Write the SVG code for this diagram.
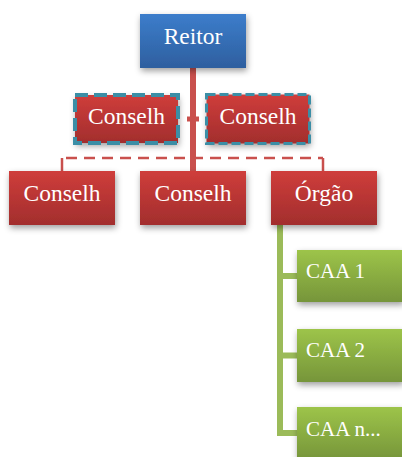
<svg xmlns="http://www.w3.org/2000/svg" width="402" height="457" viewBox="0 0 402 457">
<defs>
<linearGradient id="gBlue" x1="0" y1="0" x2="0" y2="1"><stop offset="0" stop-color="#3c7dcb"/><stop offset="1" stop-color="#2e5f9f"/></linearGradient>
<linearGradient id="gRed" x1="0" y1="0" x2="0" y2="1"><stop offset="0" stop-color="#cf3d3b"/><stop offset="1" stop-color="#a22e2d"/></linearGradient>
<linearGradient id="gGreen" x1="0" y1="0" x2="0" y2="1"><stop offset="0" stop-color="#9dc449"/><stop offset="1" stop-color="#76953a"/></linearGradient>
<filter id="sh" x="-20%" y="-20%" width="150%" height="160%"><feDropShadow dx="1" dy="3" stdDeviation="3" flood-color="#000" flood-opacity="0.38"/></filter>
<style>
text{font-family:"Liberation Serif","Times New Roman",serif;fill:#fff}
.r{font-size:23.5px;text-anchor:middle}
.g{font-size:21px}
.dash{fill:none;stroke:#3b8ea6}
</style>
</defs>
<g id="connectors">
<line x1="193" y1="66" x2="193" y2="172" stroke="#c9504d" stroke-width="6"/>
<line x1="187" y1="119" x2="199" y2="119" stroke="#c9504d" stroke-width="5"/>
<line x1="62" y1="158" x2="323" y2="158" stroke="#c9504d" stroke-width="2.5" stroke-dasharray="11,7" stroke-dashoffset="-4"/>
<line x1="62" y1="158" x2="62" y2="172" stroke="#c9504d" stroke-width="2.5"/>
<line x1="323" y1="158" x2="323" y2="172" stroke="#c9504d" stroke-width="2.5"/>
<path d="M280 224 V433 H298 M280 276 H298 M280 355.5 H298" fill="none" stroke="#9bbb59" stroke-width="6"/>
</g>
<g id="reitor"><rect x="140" y="14" width="106" height="54" fill="url(#gBlue)" filter="url(#sh)"/><text class="r" x="193" y="44">Reitor</text></g>
<g id="conselh1"><rect x="75" y="95" width="103" height="48" fill="url(#gRed)" filter="url(#sh)"/><rect class="dash" x="75" y="95" width="103" height="48" stroke-width="4" stroke-dasharray="13,6"/><text class="r" x="126.5" y="124">Conselh</text></g>
<g id="conselh2"><rect x="206.5" y="94.5" width="103" height="49" fill="url(#gRed)" filter="url(#sh)"/><rect class="dash" x="206.5" y="94.5" width="103" height="49" stroke-width="3" stroke-dasharray="9,4"/><text class="r" x="258" y="124">Conselh</text></g>
<g id="conselh3"><rect x="9" y="171" width="106" height="54" fill="url(#gRed)" filter="url(#sh)"/><text class="r" x="62" y="201">Conselh</text></g>
<g id="conselh4"><rect x="140" y="171" width="106" height="54" fill="url(#gRed)" filter="url(#sh)"/><text class="r" x="193" y="201">Conselh</text></g>
<g id="orgao"><rect x="271" y="171" width="106" height="54" fill="url(#gRed)" filter="url(#sh)"/><text class="r" x="324" y="201">Órgão</text></g>
<g id="caa1"><rect x="297" y="250" width="106" height="52" fill="url(#gGreen)" filter="url(#sh)"/><text class="g" x="306" y="278">CAA 1</text></g>
<g id="caa2"><rect x="297" y="329" width="106" height="53" fill="url(#gGreen)" filter="url(#sh)"/><text class="g" x="306" y="357">CAA 2</text></g>
<g id="caan"><rect x="297" y="407" width="106" height="53" fill="url(#gGreen)" filter="url(#sh)"/><text class="g" x="306" y="436">CAA n...</text></g>
</svg>
